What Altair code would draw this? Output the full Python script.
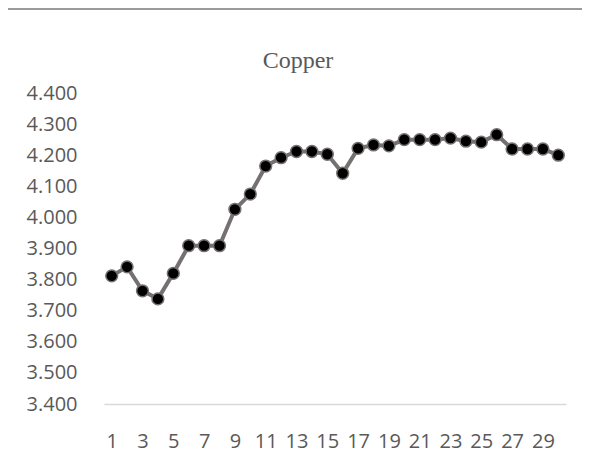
import altair as alt
import pandas as pd

days = list(range(1, 31))
copper = [3.812, 3.841, 3.764, 3.738, 3.820, 3.909, 3.909, 3.909, 4.026, 4.075,
          4.165, 4.192, 4.212, 4.212, 4.203, 4.142, 4.222, 4.233, 4.230, 4.250,
          4.250, 4.250, 4.255, 4.245, 4.242, 4.266, 4.220, 4.220, 4.220, 4.200]
x_ticks = list(range(1, 30, 2))
y_ticks = [3.4, 3.5, 3.6, 3.7, 3.8, 3.9, 4.0, 4.1, 4.2, 4.3, 4.4]
title_text = ["Copper"]

df = pd.DataFrame({"day": days, "value": copper})

W, H = 462, 311

x = alt.X("day:Q", scale=alt.Scale(domain=[0.5, 30.5], nice=False, zero=False),
          axis=alt.Axis(values=x_ticks, title=None, grid=False, ticks=False,
                        domain=True, domainColor="#d9d9d9", domainWidth=1.5,
                        labelFont="Open Sans", labelFontSize=20, labelColor="#595959",
                        labelPadding=27, labelOverlap=False, labelFlush=False))
y = alt.Y("value:Q", scale=alt.Scale(domain=[3.4, 4.4], nice=False, zero=False),
          axis=alt.Axis(values=y_ticks, format=".3f", title=None, grid=False, ticks=False,
                        domain=False, labelFont="Open Sans", labelFontSize=20,
                        labelColor="#595959", labelPadding=27))

line = alt.Chart(df).mark_line(color="#767171", strokeWidth=4).encode(x=x, y=y)
pts = alt.Chart(df).mark_point(filled=True, fill="#000000", stroke="#767171",
                               strokeWidth=1.5, size=140, opacity=1,
                               fillOpacity=1, shape="circle").encode(x=x, y=y)

title = alt.Chart(pd.DataFrame({"t": title_text})).mark_text(
    font="Liberation Serif", fontSize=24, color="#595959", baseline="alphabetic",
    align="center").encode(text="t:N", x=alt.value(194), y=alt.value(-25))

topline = alt.Chart(pd.DataFrame({"a": [0]})).mark_rule(
    color="#7a7a7a", strokeWidth=1.5).encode(
    x=alt.value(-96), x2=alt.value(478), y=alt.value(-84))

chart = alt.layer(topline, title, line, pts).properties(
    width=W, height=H,
    background="white",
    autosize=alt.AutoSizeParams(type="none"),
    padding={"left": 96, "top": 85, "right": 16, "bottom": 52},
).configure_view(stroke=None, strokeWidth=0)

chart.save("out.html", embed_options={"renderer": "svg", "actions": False})
